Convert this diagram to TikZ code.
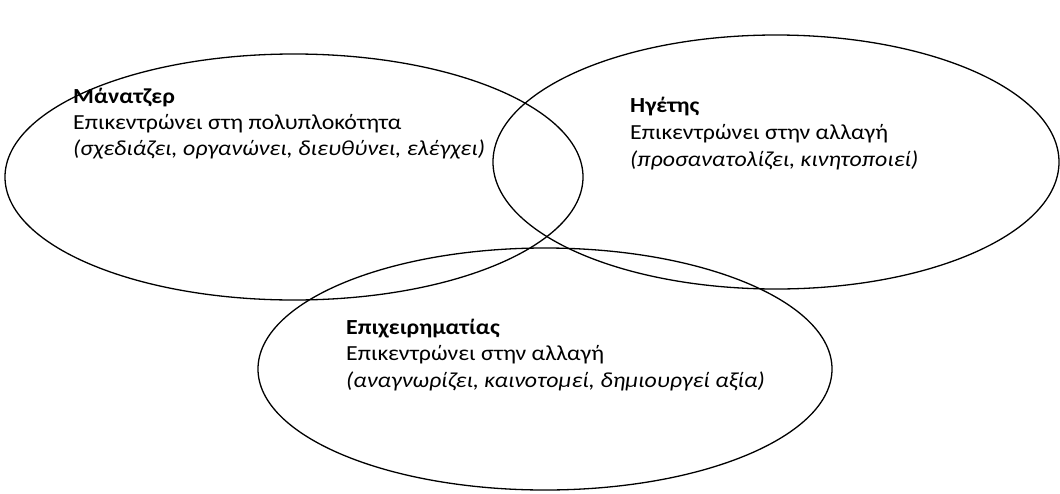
\documentclass[tikz,border=0pt]{standalone}
\usepackage{fontspec}
\setmainfont[FakeStretch=1.11]{Carlito}
\usetikzlibrary{shapes.geometric}
\begin{document}
\begin{tikzpicture}[x=1pt,y=-1pt,
  ring/.style={draw=black, line width=1.3pt, ellipse, inner sep=0pt},
  blurb/.style={anchor=base west, inner sep=0pt,
    font=\fontsize{21.5}{26}\selectfont}]
\useasboundingbox (0,0) rectangle (1060,493);
% three overlapping roles
\node[ring, minimum width=578pt, minimum height=246pt] (mgr) at (294,177) {};
\node[ring, minimum width=566pt, minimum height=254pt] (ldr) at (776,162) {};
\node[ring, minimum width=574pt, minimum height=242pt] (ent) at (545,369) {};
% manager
\node[blurb] (mgrA) at (73,103) {\textbf{Μάνατζερ}};
\node[blurb] (mgrB) at (73,129) {Επικεντρώνει στη πολυπλοκότητα};
\node[blurb] (mgrC) at (73,155) {\textit{(σχεδιάζει, οργανώνει, διευθύνει, ελέγχει)}};
% leader
\node[blurb] (ldrA) at (630,112) {\textbf{Ηγέτης}};
\node[blurb] (ldrB) at (630,139) {Επικεντρώνει στην αλλαγή};
\node[blurb] (ldrC) at (630,166) {\textit{(προσανατολίζει, κινητοποιεί)}};
% entrepreneur
\node[blurb] (entA) at (346,334) {\textbf{Επιχειρηματίας}};
\node[blurb] (entB) at (346,360) {Επικεντρώνει στην αλλαγή};
\node[blurb] (entC) at (346,387) {\textit{(αναγνωρίζει, καινοτομεί, δημιουργεί αξία)}};
\end{tikzpicture}
\end{document}
